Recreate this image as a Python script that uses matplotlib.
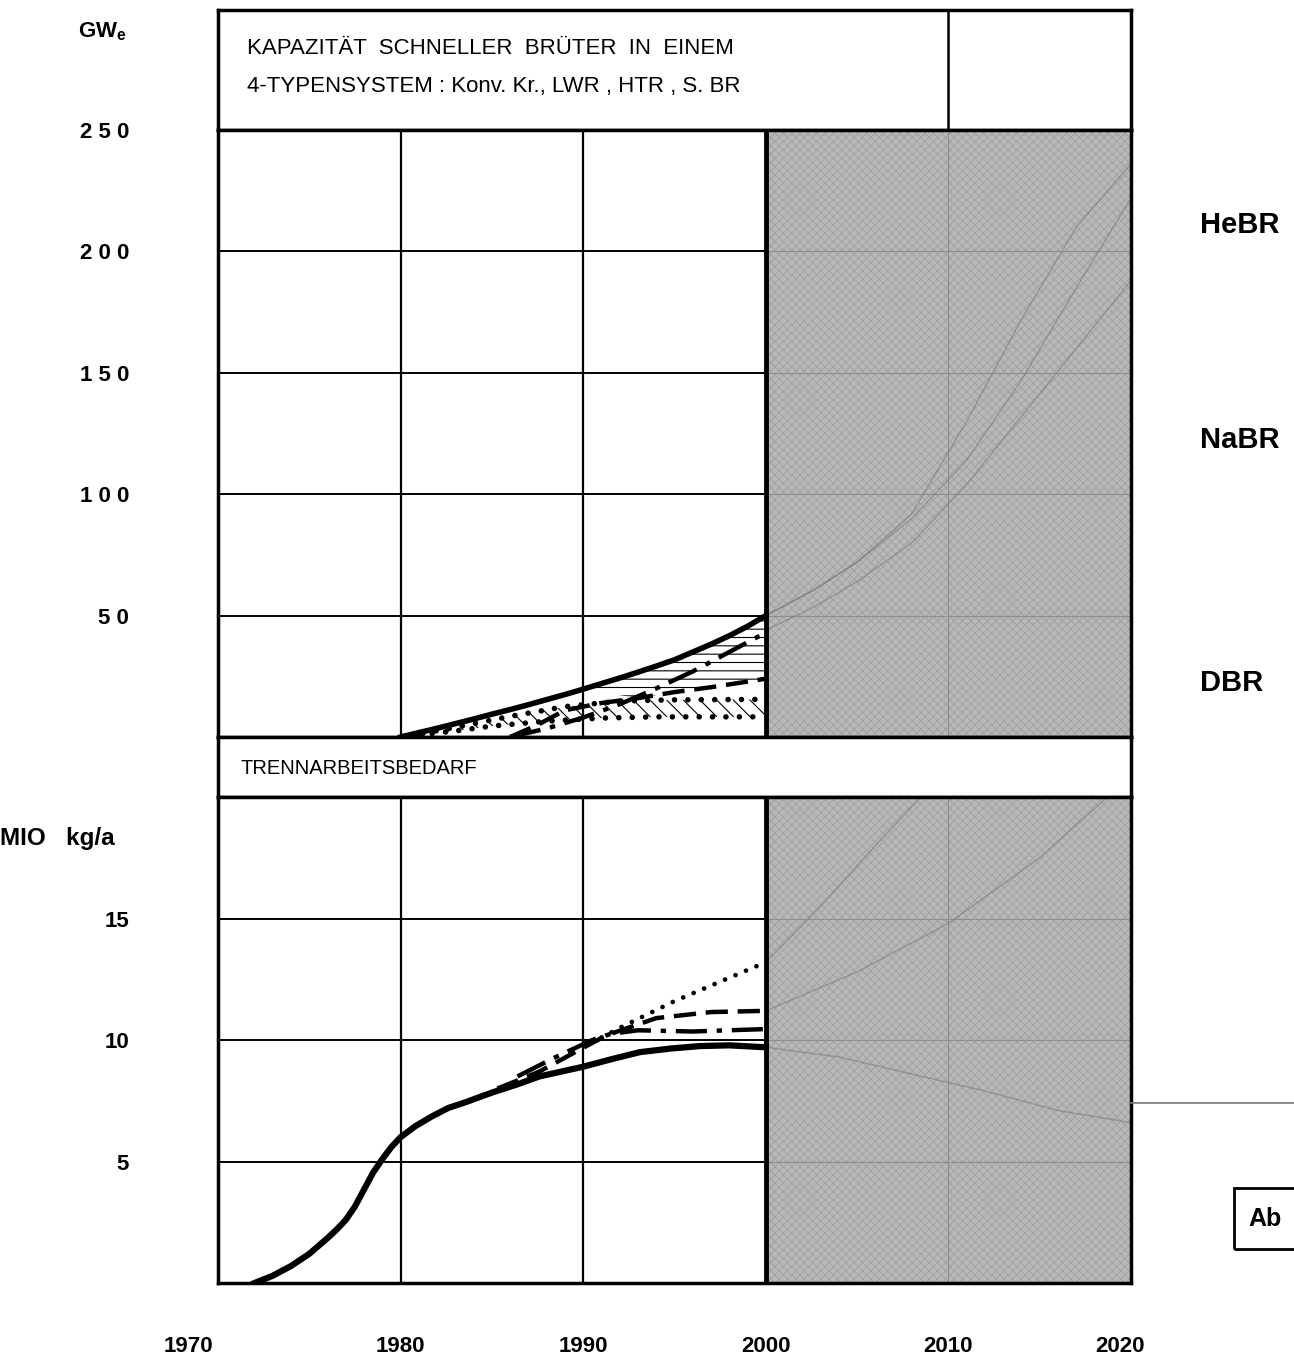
import numpy as np
import matplotlib
matplotlib.use("Agg")
import matplotlib.pyplot as plt
from matplotlib.transforms import ScaledTranslation

# ==========================
# DATA
# ==========================
# upper panel: capacity of fast breeders, GWe
up_total_x = [1980, 1981, 1982, 1983, 1984, 1985, 1986, 1987, 1988, 1989, 1990,
              1991, 1992, 1993, 1994, 1995, 1996, 1997, 1998, 1999, 2000]
up_total = [0, 1.8, 3.6, 5.5, 7.4, 9.4, 11.3, 13.3, 15.4, 17.5, 19.7,
            22, 24.3, 26.7, 29.2, 31.8, 35, 38.2, 41.7, 45.6, 50]

up_dashdot_x = [1986, 1988, 1990, 1992, 1994, 1996, 1998, 2000]
up_dashdot = [0, 3.5, 8, 13.5, 20, 27, 35, 43]

up_dashed_x = [1986, 1987.5, 1989, 1991, 1993, 1995, 1997, 2000]
up_dashed = [0, 5, 11, 14, 16, 18.5, 20.5, 24]

up_dot_hi_x = [1980.5, 1983, 1986, 1989, 1992, 1995, 2000]
up_dot_hi = [0.5, 4, 8.5, 12.5, 14.8, 15.3, 15.5]

up_dot_lo_x = [1981, 1983, 1985, 1988, 1991, 1994, 2000]
up_dot_lo = [0.8, 2.5, 4.5, 6.5, 7.8, 8.3, 8.3]

# faint continuations inside the grey area
grey_up_x = [2000, 2002.5, 2005, 2008, 2011, 2014, 2017, 2020]
grey_he = [50, 60, 72, 92, 130, 172, 210, 236]
grey_na = [50, 60, 72, 90, 114, 147, 185, 222]
grey_d = [44, 53, 64, 80, 104, 132, 160, 188]

# lower panel: separative work demand, MIO kg/a
lo_total_x = [1972, 1973, 1974, 1975, 1976, 1976.5, 1977, 1977.5, 1978,
              1978.5, 1979, 1979.5, 1980, 1980.8, 1981.7, 1982.6, 1983.6,
              1984.5, 1985.1, 1986.3, 1987.6, 1988.8, 1990, 1991.5, 1993.1,
              1994.8, 1996.4, 1998, 2000]
lo_total = [0, 0.3, 0.7, 1.2, 1.85, 2.2, 2.6, 3.15, 3.85,
            4.55, 5.1, 5.6, 6.0, 6.45, 6.85, 7.2, 7.45,
            7.7, 7.86, 8.15, 8.5, 8.7, 8.9, 9.2, 9.5,
            9.65, 9.75, 9.78, 9.7]

lo_dashdot_x = [1986.4, 1988.5, 1990.5, 1991.5, 1993, 1996, 2000]
lo_dashdot = [8.5, 9.3, 10.0, 10.25, 10.4, 10.35, 10.45]

lo_dashed_x = [1985.3, 1987.6, 1989.8, 1991.3, 1994, 1997, 2000]
lo_dashed = [8.0, 8.7, 9.6, 10.2, 10.9, 11.15, 11.2]

lo_dotted_x = [1991, 1992, 1995, 1997.5, 2000]
lo_dotted = [10.1, 10.5, 11.6, 12.4, 13.2]

grey_lo_x1 = [2000, 2003, 2006, 2008.5]
grey_lo_1 = [13.2, 15.5, 18, 20]
grey_lo_x2 = [2000, 2005, 2010, 2015, 2018.7]
grey_lo_2 = [11.2, 12.8, 14.8, 17.5, 20]
grey_lo_x3 = [2000, 2004, 2008, 2012, 2016, 2020]
grey_lo_3 = [9.7, 9.3, 8.6, 7.9, 7.1, 6.6]

years = [1970, 1980, 1990, 2000, 2010, 2020]
up_ticks = [50, 100, 150, 200, 250]
up_ticklabels = ["5 0", "1 0 0", "1 5 0", "2 0 0", "2 5 0"]
lo_ticks = [5, 10, 15]
lo_ticklabels = ["5", "10", "15"]

# ==========================
# FIGURE
# ==========================
W, H = 1294, 1356
plt.rcParams["font.family"] = ["Liberation Sans", "DejaVu Sans"]
plt.rcParams["hatch.linewidth"] = 0.8

fig = plt.figure(figsize=(W / 100, H / 100), dpi=100)


def box(x0, y0, x1, y1):
    return [x0 / W, 1 - y1 / H, (x1 - x0) / W, (y1 - y0) / H]


def frame(ax):
    ax.set_xlim(1970, 2020)
    for s in ax.spines.values():
        s.set_linewidth(2.5)
    ax.tick_params(length=0)
    ax.set_xticks([])
    ax.set_yticks([])


def grey_area(ax, hlines):
    ax.axvspan(2000, 2020, facecolor="#b8b8b8", edgecolor="#a4a4a4",
               hatch="xxxx", lw=0, zorder=0)
    for v in hlines:
        ax.plot([1970, 2000], [v, v], color="black", lw=1.4, zorder=1)
        ax.plot([2000, 2020], [v, v], color="#8e8e8e", lw=0.8, zorder=1)
    for yr in [1980, 1990]:
        ax.axvline(yr, color="black", lw=1.6, zorder=1)
    ax.axvline(2010, color="#8e8e8e", lw=0.8, zorder=1)
    ax.axvline(2000, color="black", lw=3.5, zorder=4)


DOT = dict(color="black", dashes=(0.01, 2.4), dash_capstyle="round", zorder=3)
DASH = dict(color="black", lw=3.2, dashes=(5, 2.2), zorder=3)
DASHDOT = dict(color="black", lw=3.2, dashes=(7, 2.2, 1.2, 2.2), zorder=3)
FAINT = dict(color="#7a7a7a", lw=1.1, alpha=0.55, zorder=1)

ax_t = fig.add_axes(box(218, 10, 1131, 130))
ax_u = fig.add_axes(box(218, 130, 1131, 737))
ax_b = fig.add_axes(box(218, 737, 1131, 797))
ax_l = fig.add_axes(box(218, 797, 1131, 1283))
for ax in (ax_t, ax_u, ax_b, ax_l):
    frame(ax)

# ---- title box
ax_t.set_ylim(0, 1)
ax_t.axvline(2010, color="black", lw=1.8)
ax_t.text(1971.6, 0.68, "KAPAZITÄT  SCHNELLER  BRÜTER  IN  EINEM",
          fontsize=16, va="center", ha="left")
ax_t.text(1971.6, 0.36, "4-TYPENSYSTEM : Konv. Kr., LWR , HTR , S. BR",
          fontsize=16, va="center", ha="left")

# ---- upper panel
ax_u.set_ylim(0, 250)
grey_area(ax_u, [50, 100, 150, 200])

# hatched bands
ax_u.fill(up_total_x[10:] + up_dashed_x[::-1][:4],
          up_total[10:] + up_dashed[::-1][:4],
          facecolor="none", edgecolor="black", hatch="--", lw=0, zorder=2)
ax_u.fill(up_dot_lo_x + up_dot_hi_x[::-1], up_dot_lo + up_dot_hi[::-1],
          facecolor="none", edgecolor="black", hatch="\\\\", lw=0, zorder=2)

ax_u.plot(up_total_x, up_total, color="black", lw=4, zorder=3)
ax_u.plot(up_dashdot_x, up_dashdot, **DASHDOT)
ax_u.plot(up_dashed_x, up_dashed, **DASH)
ax_u.plot(up_dot_hi_x, up_dot_hi, lw=4, **DOT)
ax_u.plot(up_dot_lo_x, up_dot_lo, lw=4, **DOT)

for ys in (grey_he, grey_na, grey_d):
    ax_u.plot(grey_up_x, ys, **FAINT)

ax_u.set_yticks(up_ticks, up_ticklabels)
ax_u.tick_params(axis="y", length=0, pad=64, labelsize=16)
for lab in ax_u.get_yticklabels():
    lab.set_fontweight("bold")

# ---- middle band
ax_b.set_ylim(0, 1)
ax_b.text(1971.25, 0.48, "TRENNARBEITSBEDARF", fontsize=14.5,
          va="center", ha="left")

# ---- lower panel
ax_l.set_ylim(0, 20)
grey_area(ax_l, [5, 10, 15])

ax_l.plot(lo_total_x, lo_total, color="black", lw=4.5, zorder=3)
ax_l.plot(lo_dashdot_x, lo_dashdot, **DASHDOT)
ax_l.plot(lo_dashed_x, lo_dashed, **DASH)
ax_l.plot(lo_dotted_x, lo_dotted, lw=3.4, **DOT)
for xs, ys in ((grey_lo_x1, grey_lo_1), (grey_lo_x2, grey_lo_2),
               (grey_lo_x3, grey_lo_3)):
    ax_l.plot(xs, ys, **FAINT)

ax_l.set_yticks(lo_ticks, lo_ticklabels)
ax_l.tick_params(axis="y", length=0, pad=64, labelsize=16)
ax_l.set_xticks(years, [str(y) for y in years])
ax_l.tick_params(axis="x", length=0, pad=38, labelsize=16)
for lab in ax_l.get_yticklabels() + ax_l.get_xticklabels():
    lab.set_fontweight("bold")
xlabs = ax_l.get_xticklabels()
xlabs[0].set_transform(xlabs[0].get_transform()
                       + ScaledTranslation(-0.30, 0, fig.dpi_scale_trans))
xlabs[-1].set_transform(xlabs[-1].get_transform()
                        + ScaledTranslation(-0.11, 0, fig.dpi_scale_trans))

# ---- outside labels
fig.text(78 / W, 1 - 32 / H, r"GW$_\mathregular{e}$", fontsize=16,
         fontweight="bold", va="center", ha="left")
fig.text(0 / W, 1 - 838 / H, "MIO   kg/a", fontsize=17.5, fontweight="bold",
         va="center", ha="left")
for name, yy in (("HeBR", 225), ("NaBR", 440), ("DBR", 683)):
    fig.text(1200 / W, 1 - yy / H, name, fontsize=21, fontweight="bold",
             va="center", ha="left")

# stray page elements on the right
fig.add_artist(plt.Line2D([1131 / W, 1.0], [1 - 1103 / H] * 2,
                          color="#777777", lw=1.2))
fig.add_artist(plt.Rectangle((1234 / W, 1 - 1249 / H), 80 / W, 61 / H,
                             fill=False, lw=2, color="black"))
fig.text(1248 / W, 1 - 1219 / H, "Ab", fontsize=18, fontweight="bold",
         va="center", ha="left")

fig.savefig("out.png", dpi=100)
